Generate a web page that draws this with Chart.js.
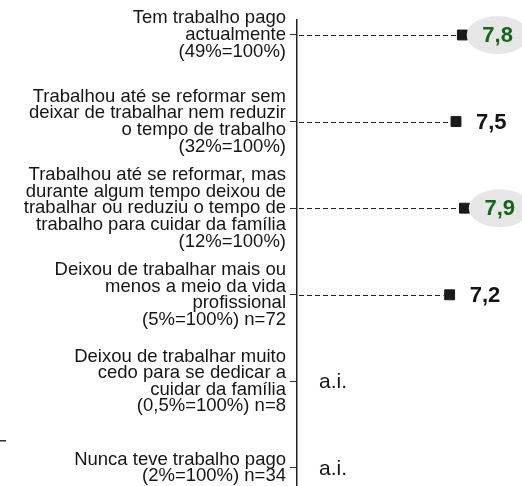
<!DOCTYPE html>
<html>
<head>
<meta charset="utf-8">
<script src="https://cdn.jsdelivr.net/npm/chart.js@4.4.1/dist/chart.umd.min.js"></script>
<style>
    html, body { margin: 0; padding: 0; background: #fff; overflow: hidden; }
    #wrap { position: relative; width: 522px; height: 494px; }
</style>
</head>
<body>
<div id="wrap"><canvas id="trabalhoChart"></canvas></div>
<script>
const categories = [
    ['Tem trabalho pago', 'actualmente', '(49%=100%)'],
    ['Trabalhou até se reformar sem', 'deixar de trabalhar nem reduzir', 'o tempo de trabalho', '(32%=100%)'],
    ['Trabalhou até se reformar, mas', 'durante algum tempo deixou de', 'trabalhar ou reduziu o tempo de', 'trabalho para cuidar da família', '(12%=100%)'],
    ['Deixou de trabalhar mais ou', 'menos a meio da vida', 'profissional', '(5%=100%) n=72'],
    ['Deixou de trabalhar muito', 'cedo para se dedicar a', 'cuidar da família', '(0,5%=100%) n=8'],
    ['Nunca teve trabalho pago', '(2%=100%) n=34']
];
const values = [7.8, 7.5, 7.9, 7.2, null, null];
const valueLabels = ['7,8', '7,5', '7,9', '7,2', 'a.i.', 'a.i.'];
const highlighted = [0, 2];

const FONT = "'Liberation Sans', Arial, sans-serif";

(function() {
    const points = [];
    values.forEach(function(v, i) {
        if (v !== null) points.push({ x: v, y: i });
    });

    // dashed leaders from the axis to each point
    const leaderPlugin = {
        id: 'leaders',
        beforeDatasetsDraw(chart) {
            const ctx = chart.ctx;
            const meta = chart.getDatasetMeta(0);
            ctx.save();
            ctx.strokeStyle = '#222';
            ctx.lineWidth = 1;
            ctx.setLineDash([5, 3]);
            meta.data.forEach(function(pt) {
                ctx.beginPath();
                ctx.moveTo(chart.chartArea.left + 2, Math.round(pt.y) + 0.5);
                ctx.lineTo(pt.x - 6, Math.round(pt.y) + 0.5);
                ctx.stroke();
            });
            ctx.restore();
        }
    };

    // value labels, with the grey ellipse behind the highlighted ones
    const valuePlugin = {
        id: 'valueLabels',
        afterDatasetsDraw(chart) {
            const ctx = chart.ctx;
            const xs = chart.scales.x;
            const ys = chart.scales.y;
            ctx.save();
            ctx.textBaseline = 'middle';
            ctx.textAlign = 'left';
            values.forEach(function(v, i) {
                const y = ys.getPixelForValue(i);
                if (v === null) {
                    ctx.font = '21px ' + FONT;
                    ctx.fillStyle = '#151515';
                    ctx.fillText(valueLabels[i], chart.chartArea.left + 22, y + 1);
                    return;
                }
                const x = xs.getPixelForValue(v) + 20;
                ctx.font = 'bold 22px ' + FONT;
                const w = ctx.measureText(valueLabels[i]).width;
                if (highlighted.indexOf(i) !== -1) {
                    ctx.fillStyle = '#e5e6e5';
                    ctx.beginPath();
                    ctx.ellipse(x + w / 2, y, 31, 19, 0, 0, Math.PI * 2);
                    ctx.fill();
                    ctx.fillStyle = '#14661a';
                } else {
                    ctx.fillStyle = '#151515';
                }
                ctx.fillText(valueLabels[i], x, y + 1);
            });
            // small stray mark on the left edge of the original
            ctx.fillStyle = '#333';
            ctx.fillRect(0, 440, 6, 1.5);
            ctx.restore();
        }
    };

    new Chart(document.getElementById('trabalhoChart').getContext('2d'), {
        type: 'scatter',
        data: {
            datasets: [{
                data: points,
                pointStyle: 'rect',
                pointRadius: 7,
                pointHoverRadius: 7,
                pointBackgroundColor: '#1a1a1a',
                pointBorderColor: '#1a1a1a',
                pointBorderWidth: 1
            }]
        },
        options: {
            responsive: true,
            maintainAspectRatio: false,
            animation: false,
            layout: { padding: { top: 20, right: 13, bottom: 0, left: 0 } },
            plugins: { legend: { display: false }, tooltip: { enabled: false } },
            scales: {
                x: { display: false, min: 0, max: 10 },
                y: {
                    reverse: true,
                    min: -0.173,
                    max: 5.208,
                    afterBuildTicks: function(scale) {
                        scale.ticks = categories.map(function(_, i) { return { value: i }; });
                    },
                    afterFit: function(scale) {
                        scale.width = 297;
                        scale.paddingTop = 0;
                        scale.paddingBottom = 0;
                    },
                    grid: { drawOnChartArea: false, drawTicks: true, tickLength: 7, color: '#333', lineWidth: 1 },
                    border: { display: true, color: '#222', width: 1.5 },
                    ticks: {
                        autoSkip: false,
                        padding: 4,
                        color: '#151515',
                        font: { family: FONT, size: 18.5, lineHeight: 0.9 },
                        callback: function(value) { return categories[value]; }
                    }
                }
            }
        },
        plugins: [leaderPlugin, valuePlugin]
    });
})();
</script>
</body>
</html>
